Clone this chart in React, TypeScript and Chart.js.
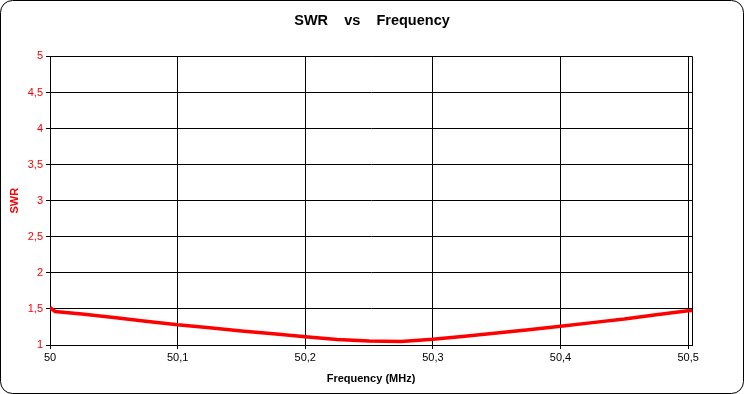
import React, { useEffect, useRef } from "react";
import { Chart, registerables } from "chart.js";

Chart.register(...registerables);

const frequencies = [50, 50.004, 50.025, 50.05, 50.075, 50.1, 50.125, 50.15, 50.175, 50.2, 50.225, 50.25, 50.275, 50.3, 50.325, 50.35, 50.375, 50.4, 50.425, 50.45, 50.475, 50.5, 50.503];
const swrValues = [1.52, 1.465, 1.43, 1.38, 1.33, 1.28, 1.24, 1.195, 1.155, 1.115, 1.075, 1.055, 1.05, 1.08, 1.12, 1.165, 1.21, 1.26, 1.31, 1.36, 1.42, 1.475, 1.48];

const titleText = "SWR    vs    Frequency";
const xTitle = "Frequency (MHz)";
const yTitle = "SWR";

const fmt = (v: number) => {
  const r = Math.round(v * 10) / 10;
  if (Math.abs(r - Math.round(r)) < 1e-9) return String(Math.round(r));
  return r.toFixed(1).replace(".", ",");
};

const FONT = "'Liberation Sans', Arial, sans-serif";

export default function App() {
  const ref = useRef<HTMLCanvasElement | null>(null);
  useEffect(() => {
    document.body.style.margin = "0";
    const canvas = ref.current!;
    const framePlugin = {
      id: "frame",
      beforeDraw(chart: any) {
        const ctx = chart.ctx;
        ctx.save();
        ctx.fillStyle = "#ffffff";
        ctx.fillRect(0, 0, chart.width, chart.height);
        ctx.strokeStyle = "#000000";
        ctx.lineWidth = 1;
        ctx.beginPath();
        (ctx as any).roundRect(0.5, 0.5, chart.width - 1, chart.height - 1, 12);
        ctx.stroke();
        ctx.restore();
      },
      afterDatasetsDraw(chart: any) {
        const { left, right, top, bottom } = chart.chartArea;
        const ctx = chart.ctx;
        ctx.save();
        ctx.strokeStyle = "#000000";
        ctx.lineWidth = 1;
        ctx.beginPath();
        ctx.moveTo(Math.round(left) + 0.5, Math.round(top) + 0.5);
        ctx.lineTo(Math.round(right) + 0.5, Math.round(top) + 0.5);
        ctx.lineTo(Math.round(right) + 0.5, Math.round(bottom) + 0.5);
        ctx.stroke();
        ctx.restore();
      },
    };
    const chart = new Chart(canvas, {
      type: "line",
      data: {
        datasets: [
          {
            data: frequencies.map((f, i) => ({ x: f, y: swrValues[i] })),
            borderColor: "#ff0000",
            borderWidth: 3.5,
            pointRadius: 0,
            tension: 0,
            fill: false,
          },
        ],
      },
      options: {
        responsive: false,
        animation: false,
        devicePixelRatio: 1,
        layout: { padding: { left: 0, right: 0, top: 0, bottom: 0 } },
        plugins: {
          legend: { display: false },
          tooltip: { enabled: false },
          title: {
            display: true,
            text: titleText,
            color: "#000000",
            font: { family: FONT, size: 14.5, weight: "bold" },
            padding: { top: 12, bottom: 27 },
          },
        },
        scales: {
          x: {
            type: "linear",
            min: 50,
            max: 50.503,
            ticks: {
              stepSize: 0.1,
              includeBounds: false,
              color: "#000000",
              font: { family: FONT, size: 11 },
              padding: 2,
              maxRotation: 0,
              callback: (v: any) => fmt(Number(v)),
            },
            grid: { color: "#000000", lineWidth: 1, tickLength: 4, drawTicks: true },
            border: { color: "#000000", width: 1 },
            title: {
              display: true,
              text: xTitle,
              color: "#000000",
              font: { family: FONT, size: 11, weight: "bold" },
              padding: { top: 0, bottom: 8 },
            },
            afterFit: (s: any) => {
              s.height = 49;
            },
          },
          y: {
            type: "linear",
            min: 1,
            max: 5,
            ticks: {
              stepSize: 0.5,
              color: "#ff0000",
              font: { family: FONT, size: 11 },
              padding: 3,
              callback: (v: any) => fmt(Number(v)),
            },
            grid: { color: "#000000", lineWidth: 1, tickLength: 4, drawTicks: true },
            border: { color: "#000000", width: 1 },
            title: {
              display: true,
              text: yTitle,
              color: "#ff0000",
              font: { family: FONT, size: 11, weight: "bold" },
              padding: { top: 8, bottom: 0 },
            },
            afterFit: (s: any) => {
              s.width = 50;
            },
          },
          yRight: {
            type: "linear",
            position: "right",
            min: 1,
            max: 5,
            ticks: { display: false },
            grid: { display: false, drawTicks: false },
            border: { display: false },
            afterFit: (s: any) => {
              s.width = 52;
            },
          },
        },
      },
      plugins: [framePlugin],
    } as any);
    return () => chart.destroy();
  }, []);
  return (
    <div style={{ width: 744, height: 394 }}>
      <canvas ref={ref} width={744} height={394} style={{ display: "block" }} />
    </div>
  );
}
